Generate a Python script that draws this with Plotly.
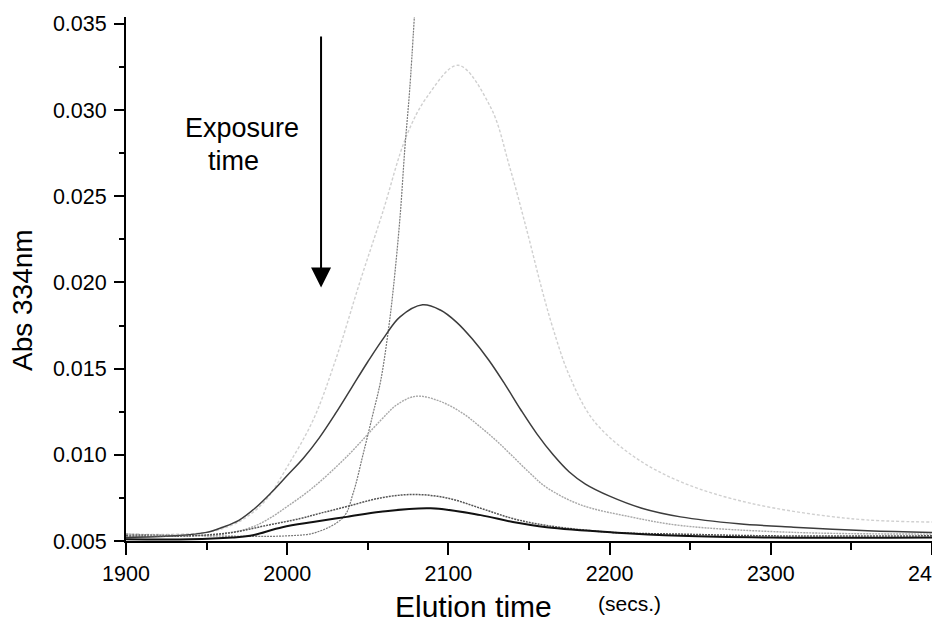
import plotly.graph_objects as go

# Elution profiles (Abs 334nm vs elution time, s) for successive exposure times
x_a = [1900, 1930, 1950, 1960, 1970, 1980, 1990, 2000, 2010, 2020, 2030, 2040, 2050, 2060, 2070, 2084,
       2095, 2105, 2115, 2125, 2135, 2145, 2155, 2165, 2175, 2185, 2200, 2220, 2244, 2280, 2314, 2360, 2400]
y_a = [0.0052, 0.0053, 0.0055, 0.0058, 0.0062, 0.0069, 0.0078, 0.0088, 0.0098, 0.0110, 0.0124, 0.0139, 0.0154, 0.0168, 0.0180, 0.0187,
       0.0184, 0.0177, 0.0167, 0.0155, 0.0141, 0.0126, 0.0112, 0.0100, 0.0090, 0.0083, 0.0076, 0.0069, 0.0064, 0.0060, 0.0058, 0.0056, 0.0055]

x_b = [1900, 1940, 1960, 1975, 1987, 2000, 2016, 2037, 2058, 2068, 2080, 2095, 2109, 2120, 2130, 2140, 2151, 2161, 2182, 2213, 2244, 2314, 2400]
y_b = [0.0053, 0.0053, 0.0054, 0.0057, 0.0062, 0.0070, 0.0081, 0.0099, 0.0120, 0.0129, 0.0134, 0.0131, 0.0124, 0.0116, 0.0108, 0.0099, 0.0089, 0.0081, 0.0071, 0.0064, 0.0059, 0.0055, 0.0054]

x_c = [1900, 1950, 1965, 1975, 1987, 2000, 2016, 2030, 2045, 2059, 2074, 2087, 2106, 2126, 2138, 2149, 2158, 2165, 2175, 2190, 2215, 2245, 2287, 2349, 2400]
y_c = [0.0054, 0.0055, 0.0059, 0.0064, 0.0074, 0.0093, 0.0120, 0.0155, 0.0200, 0.0240, 0.0285, 0.0308, 0.0326, 0.0302, 0.0267, 0.0229, 0.0196, 0.0173, 0.0146, 0.0120, 0.0099, 0.0084, 0.0072, 0.0063, 0.0061]

x_d = [1900, 1950, 2000, 2018, 2035, 2041, 2047, 2053, 2058, 2063, 2066, 2070, 2073, 2076, 2079]
y_d = [0.0054, 0.0053, 0.0053, 0.0055, 0.0064, 0.0078, 0.0100, 0.0123, 0.0143, 0.0174, 0.0198, 0.0238, 0.0278, 0.0312, 0.0356]

x_e = [1900, 1940, 1966, 1987, 2008, 2020, 2037, 2058, 2078, 2099, 2120, 2140, 2161, 2202, 2244, 2300, 2400]
y_e = [0.0053, 0.0053, 0.0055, 0.0059, 0.0063, 0.0066, 0.0070, 0.0075, 0.0077, 0.0075, 0.0069, 0.0063, 0.0059, 0.0055, 0.0054, 0.0053, 0.0053]

x_f = [1900, 1940, 1966, 1977, 1997, 2016, 2037, 2058, 2089, 2120, 2140, 2161, 2202, 2244, 2300, 2400]
y_f = [0.0051, 0.0051, 0.0052, 0.0053, 0.0058, 0.0061, 0.0064, 0.0067, 0.0069, 0.0065, 0.0061, 0.0058, 0.0055, 0.0053, 0.0052, 0.0052]

x_ticks = [1900, 2000, 2100, 2200, 2300, 2400]
y_ticks = [0.005, 0.010, 0.015, 0.020, 0.025, 0.030, 0.035]

FONT = "Liberation Sans, Arial, sans-serif"

series = [
    (x_c, y_c, "#d0d0d0", 1.4, "3px,2px"),
    (x_d, y_d, "#7a7a7a", 1.2, "2px,1px"),
    (x_b, y_b, "#a8a8a8", 1.4, "2px,1px"),
    (x_a, y_a, "#3c3c3c", 1.5, "solid"),
    (x_e, y_e, "#555555", 1.5, "2px,1px"),
    (x_f, y_f, "#111111", 2.0, "solid"),
]

fig = go.Figure()
for xs, ys, col, w, dash in series:
    fig.add_trace(go.Scatter(
        x=xs, y=ys, mode="lines",
        line=dict(color=col, width=w, dash=dash, shape="spline", smoothing=1.0),
        showlegend=False, hoverinfo="skip",
    ))

axis_common = dict(
    showline=True, linecolor="black", linewidth=2,
    showgrid=False, zeroline=False,
    ticks="outside", tickcolor="black", tickwidth=2,
    tickfont=dict(family=FONT, size=21.5, color="black"),
)

fig.update_xaxes(
    range=[1900, 2400], tickvals=x_ticks, ticklen=12,
    minor=dict(dtick=50, tick0=1900, ticks="outside", ticklen=7, tickwidth=2, tickcolor="black"),
    ticklabeloverflow="allow",
    **axis_common,
)
fig.update_yaxes(
    range=[0.005, 0.0354], tickvals=y_ticks, tickformat=".3f", ticklen=10,
    ticklabelstandoff=3,
    minor=dict(dtick=0.0025, tick0=0.005, ticks="outside", ticklen=5, tickwidth=2, tickcolor="black"),
    **axis_common,
)

# Exposure-time arrow
arrow_x = 2021
arrow_top = 0.03436
arrow_tip = 0.0197

annotations = [
    dict(x=arrow_x, y=arrow_tip, ax=arrow_x, ay=arrow_top, xref="x", yref="y",
         axref="x", ayref="y", text="", showarrow=True, arrowhead=2,
         arrowsize=2, arrowwidth=2, arrowcolor="black", standoff=0),
    dict(x=242, y=128, xref="paper", yref="paper", text="Exposure",
         font=dict(family=FONT, size=27, color="black"), showarrow=False),
    dict(x=233, y=161, xref="paper", yref="paper", text="time",
         font=dict(family=FONT, size=27, color="black"), showarrow=False),
    dict(x=473, y=606, xref="paper", yref="paper", text="Elution time",
         font=dict(family=FONT, size=30, color="black"), showarrow=False),
    dict(x=629, y=603, xref="paper", yref="paper", text="(secs.)",
         font=dict(family=FONT, size=21, color="black"), showarrow=False),
    dict(x=22, y=300, xref="paper", yref="paper", text="Abs 334nm", textangle=-90,
         font=dict(family=FONT, size=28, color="black"), showarrow=False),
]

# convert pixel-placed text positions into paper coordinates (centre-anchored)
L, R, T, B = 126, 0, 17, 77
W, H = 932, 618
pw, ph = W - L - R, H - T - B
for a in annotations:
    if a["xref"] == "paper":
        a["x"] = (a["x"] - L) / pw
        a["y"] = (H - B - a["y"]) / ph
        a["xanchor"] = "center"
        a["yanchor"] = "middle"

fig.update_layout(
    width=W, height=H,
    margin=dict(l=L, r=R, t=T, b=B, pad=0, autoexpand=False),
    plot_bgcolor="white", paper_bgcolor="white",
    annotations=annotations,
)

fig.write_html("out.html")
